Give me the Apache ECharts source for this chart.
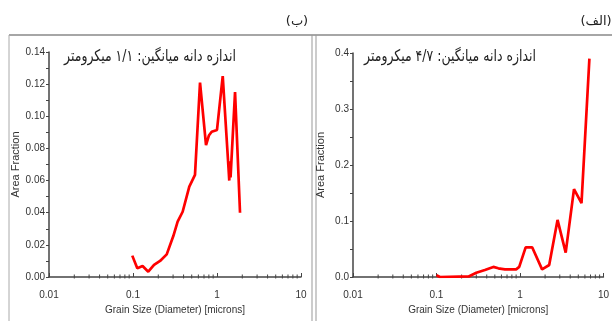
<!DOCTYPE html>
<html><head><meta charset="utf-8">
<script src="https://cdn.jsdelivr.net/npm/echarts@6/dist/echarts.min.js"></script>
<style>html,body{margin:0;padding:0;background:#fff}#c{width:612px;height:321px}</style>
</head><body><div id="c"></div>
<script>
// Panel (ب): mean grain size 1.1 µm
const smallX = [0.098,0.1125,0.13,0.152,0.178,0.21,0.252,0.302,0.34,0.39,0.468,0.547,0.628,0.74,0.80,0.865,1.0,1.17,1.37,1.40,1.42,1.45,1.64,1.88];
const smallY = [0.0133,0.0054,0.0068,0.0033,0.0075,0.010,0.0141,0.0255,0.0344,0.0406,0.0562,0.0635,0.121,0.082,0.088,0.0904,0.0915,0.125,0.068,0.060,0.072,0.062,0.115,0.040];
// Panel (الف): mean grain size 4.7 µm
const largeX = [0.1,0.11,0.243,0.30,0.38,0.48,0.55,0.66,0.90,0.98,1.17,1.40,1.84,2.24,2.82,3.53,4.44,5.46,6.79];
const largeY = [0.003,0.0,0.001,0.0077,0.0125,0.018,0.0155,0.0137,0.0137,0.018,0.053,0.053,0.0137,0.0214,0.102,0.0434,0.157,0.132,0.39];
const xMinorTicks = [0.02,0.03,0.04,0.05,0.06,0.07,0.08,0.09,0.2,0.3,0.4,0.5,0.6,0.7,0.8,0.9,2,3,4,5,6,7,8,9];
const titleSmall = 'اندازه دانه میانگین: ۱/۱ میکرومتر';
const titleLarge = 'اندازه دانه میانگین: ۴/۷ میکرومتر';
const panelSmall = '(ب)';
const panelLarge = '(الف)';
const xName = 'Grain Size (Diameter) [microns]';
const yName = 'Area Fraction';

const chart = echarts.init(document.getElementById('c'), null, {renderer:'canvas'});
const axisCol = '#444';
const lblFont = {fontFamily:'Liberation Sans', fontSize:10, color:'#333'};
function xAxis(idx){
  return {type:'log', logBase:10, min:0.01, max:10, gridIndex:idx,
    name:xName, nameLocation:'middle', nameGap:27,
    nameTextStyle:{fontFamily:'Liberation Sans Narrow, Liberation Sans', fontSize:10, color:'#333'},
    axisLine:{lineStyle:{color:axisCol, width:1.5}},
    axisTick:{show:true, inside:true, length:4, lineStyle:{color:axisCol}},
    axisLabel:Object.assign({margin:13, formatter:v=>String(+v.toPrecision(3))}, lblFont),
    splitLine:{show:false}};
}
function yAxis(idx, max, interval, dec){
  return {type:'value', min:0, max:max, interval:interval, gridIndex:idx,
    name:yName, nameLocation:'middle', nameGap:27, nameRotate:90,
    nameTextStyle:{fontFamily:'Liberation Sans', fontSize:11, color:'#333'},
    axisLine:{show:true, lineStyle:{color:axisCol, width:1.5}},
    axisTick:{show:true, length:3, lineStyle:{color:axisCol}},
    minorTick:{show:true, splitNumber:2, length:3, lineStyle:{color:axisCol}},
    axisLabel:Object.assign({margin:4, formatter:v=>v.toFixed(dec)}, lblFont),
    splitLine:{show:false}};
}
function minorSeries(idx){
  return {type:'custom', xAxisIndex:idx, yAxisIndex:idx, silent:true, clip:false, z:1,
    data:xMinorTicks.map(v=>[v,0]),
    renderItem:function(params, api){
      const p = api.coord([api.value(0), 0]);
      return {type:'line', shape:{x1:p[0], y1:p[1]-2.5, x2:p[0], y2:p[1]+1.5},
        style:{stroke:axisCol, lineWidth:1}};
    }};
}
function lineSeries(idx, xs, ys){
  return {type:'line', xAxisIndex:idx, yAxisIndex:idx, showSymbol:false, symbol:'none',
    z:3, lineStyle:{color:'#ff0000', width:2.7}, data:xs.map((x,i)=>[x, ys[i]])};
}
chart.setOption({
  animation:false,
  grid:[{left:49, right:311, top:52, bottom:44},{left:353, right:5, top:53, bottom:44}],
  xAxis:[xAxis(0), xAxis(1)],
  yAxis:[yAxis(0, 0.14, 0.02, 2), yAxis(1, 0.4, 0.1, 1)],
  series:[minorSeries(0), minorSeries(1), lineSeries(0, smallX, smallY), lineSeries(1, largeX, largeY)],
  graphic:[
    {type:'line', shape:{x1:9, y1:35, x2:612, y2:35}, style:{stroke:'#888', lineWidth:1.5}},
    {type:'line', shape:{x1:9, y1:35, x2:9, y2:321}, style:{stroke:'#aaa', lineWidth:1}},
    {type:'line', shape:{x1:312, y1:35, x2:312, y2:321}, style:{stroke:'#999', lineWidth:1}},
    {type:'line', shape:{x1:316, y1:35, x2:316, y2:321}, style:{stroke:'#999', lineWidth:1}},
    {type:'text', x:150, y:57, scaleX:0.78, style:{text:titleSmall, font:'16px "DejaVu Sans"', fill:'#222', align:'center', verticalAlign:'middle'}},
    {type:'text', x:450, y:57, scaleX:0.78, style:{text:titleLarge, font:'16px "DejaVu Sans"', fill:'#222', align:'center', verticalAlign:'middle'}},
    {type:'text', x:297, y:22, style:{text:panelSmall, font:'13px "DejaVu Sans"', fill:'#222', align:'center', verticalAlign:'middle'}},
    {type:'text', x:596, y:22, style:{text:panelLarge, font:'13px "DejaVu Sans"', fill:'#222', align:'center', verticalAlign:'middle'}}
  ]
});
</script></body></html>
